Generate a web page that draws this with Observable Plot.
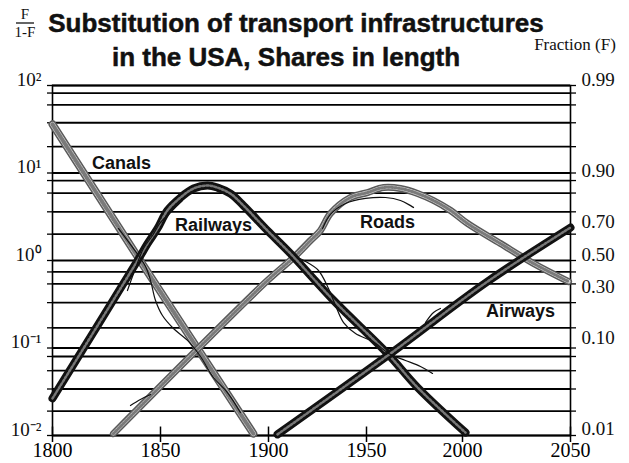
<!DOCTYPE html>
<html><head><meta charset="utf-8">
<script src="https://cdn.jsdelivr.net/npm/d3@7"></script>
<script src="https://cdn.jsdelivr.net/npm/@observablehq/plot@0.6"></script>
<style>body{margin:0;background:#fff} svg{display:block}</style>
</head><body><div id="chart"></div>
<script>
// ---- data ----
const xTicks = [1800, 1850, 1900, 1950, 2000, 2050];
const decadeTicks = [0.01, 0.1, 1, 10, 100];
const fractionTicks = [0.99, 0.90, 0.70, 0.50, 0.30, 0.10, 0.01];
const fractionLabels = ["0.99", "0.90", "0.70", "0.50", "0.30", "0.10", "0.01"];
const gridRatios = [100, 82, 60, 37.5, 20, 10, 8.2, 5.9, 3.6, 2, 1, 0.74, 0.54, 0.33, 0.17, 0.1, 0.08, 0.055, 0.034, 0.019, 0.01];

// fitted (thick) curves: F/(1-F)
const canalYears = [1800, 1840, 1893];
const canalRatio = [36, 1.05, 0.0105];
const railYears = [1800, 1839.4, 1844, 1848.6, 1853.2, 1859.3, 1865.3, 1871.8, 1876.4, 1882.4, 1888.4, 1899.5, 1911.2, 1933.2, 1960.9, 1976.6, 2001.4];
const railRatio = [0.0265, 1.0, 1.56, 2.32, 3.73, 5.25, 6.65, 7.2, 6.8, 5.8, 4.25, 2.2, 1.2, 0.35, 0.0865, 0.0354, 0.0108];
const roadYears = [1828.2, 1899.5, 1912.8, 1921.4, 1926.5, 1931.6, 1941.8, 1950.5, 1958.9, 1967.7, 1976.6, 1984.9, 1993.8, 2002.3, 2017.6, 2032.9, 2049.1];
const roadRatio = [0.0105, 0.59, 1.08, 1.69, 2.2, 3.44, 5.25, 5.98, 6.82, 6.65, 5.83, 4.85, 3.73, 2.65, 1.56, 0.925, 0.575];
const airYears = [1904.6, 1962.5, 2011.6, 2050];
const airRatio = [0.0103, 0.0865, 0.575, 2.38];

// observed (thin) data lines
const canalDataYears = [1830.6, 1837.5, 1843.1, 1845.4, 1847.7, 1850.9, 1856.0, 1862.5, 1868.5, 1874.5, 1881.0, 1887.0];
const canalDataRatio = [2.32, 1.37, 0.853, 0.59, 0.349, 0.235, 0.167, 0.122, 0.080, 0.046, 0.031, 0.0183];
const railDataYears1 = [1834.7, 1838.4, 1842.1, 1846.3, 1850, 1854.6, 1860.2];
const railDataRatio1 = [0.454, 0.81, 1.37, 1.93, 2.72, 3.54, 4.85];
const railDataYears2 = [1913.8, 1918.9, 1925.5, 1930.6, 1934.2, 1938.3, 1944.4, 1953.1, 1962.5, 1970.3, 1978.1, 1984.4];
const railDataRatio2 = [1.11, 0.974, 0.769, 0.478, 0.306, 0.195, 0.146, 0.119, 0.0843, 0.072, 0.0615, 0.0512];
const roadDataYears1 = [1836.1, 1840.7, 1845.4];
const roadDataRatio1 = [0.022, 0.0258, 0.0294];
const roadDataYears2 = [1927.6, 1931.6, 1939.3, 1949.5, 1959.9, 1967.7, 1974.5];
const roadDataRatio2 = [2.32, 3.36, 4.48, 5.12, 5.25, 4.85, 4.03];
const airDataYears = [1980.7, 1984.9, 1988.5];
const airDataRatio = [0.195, 0.255, 0.283];

const labelNames = ["Canals", "Railways", "Roads", "Airways"];
const labelYears = [1832, 1874.5, 1960.9, 2026.9];
const labelRatio = [12.9, 2.51, 2.72, 0.261];

// ---- build tables ----
const rows = (yrs, vals) => yrs.map((t, i) => ({year: t, ratio: vals[i]}));
const canal = rows(canalYears, canalRatio);
const rail = rows(railYears, railRatio);
const road = rows(roadYears, roadRatio);
const air = rows(airYears, airRatio);
const thin = [
  rows(canalDataYears, canalDataRatio),
  rows(railDataYears1, railDataRatio1),
  rows(railDataYears2, railDataRatio2),
  rows(roadDataYears1, roadDataRatio1),
  rows(roadDataYears2, roadDataRatio2),
  rows(airDataYears, airDataRatio)
];
const labels = labelNames.map((n, i) => ({name: n, year: labelYears[i], ratio: labelRatio[i]}));
const fracRows = fractionTicks.map((f, i) => ({ratio: f / (1 - f), text: fractionLabels[i]}));

const sup = {"-2": "10⁻²", "-1": "10⁻¹", "0": "10⁰", "1": "10¹", "2": "10²"};
const serif = "Liberation Serif, Times New Roman, serif";
const sans = "Liberation Sans, Arial, sans-serif";

const grayBand = (data, w) => [
  Plot.line(data, {x: "year", y: "ratio", stroke: "#5a5a5a", strokeWidth: w, curve: "catmull-rom"}),
  Plot.line(data, {x: "year", y: "ratio", stroke: "#cfcfcf", strokeWidth: w - 3, curve: "catmull-rom"}),
  Plot.line(data, {x: "year", y: "ratio", stroke: "#7a7a7a", strokeWidth: w - 4, strokeDasharray: "1.5,2", curve: "catmull-rom"})
];
const blackBand = (data) => [
  Plot.line(data, {x: "year", y: "ratio", stroke: "#111", strokeWidth: 8, curve: "catmull-rom"}),
  Plot.line(data, {x: "year", y: "ratio", stroke: "#777", strokeWidth: 2.5, strokeDasharray: "2,2", curve: "catmull-rom"})
];

const chart = Plot.plot({
  width: 629, height: 463,
  marginLeft: 52, marginRight: 59, marginTop: 85, marginBottom: 28,
  x: {type: "linear", domain: xTicks, range: [52, 160, 268, 366, 462, 570], label: null},
  y: {type: "log", domain: [0.01, 100], range: [435, 85], label: null},
  style: {background: "white", fontFamily: serif, color: "#000"},
  marks: [
    Plot.ruleY(gridRatios, {stroke: "#000", strokeWidth: 1.8}),
    Plot.frame({stroke: "#000", strokeWidth: 1.6}),
    Plot.axisY(gridRatios, {anchor: "left", tickSize: 5, tickFormat: () => "", strokeWidth: 1.3, label: null}),
    Plot.text(decadeTicks, {y: d => d, text: d => sup[String(Math.round(Math.log10(d)))], frameAnchor: "left",
      dx: -11, dy: -6, textAnchor: "end", fontSize: 19, fontFamily: serif, fill: "#111"}),
    Plot.axisY(gridRatios, {anchor: "right", tickSize: 5, tickFormat: () => "", strokeWidth: 1.3, label: null}),
    Plot.text(fracRows, {y: "ratio", text: "text", frameAnchor: "right", dx: 11, dy: -6, textAnchor: "start",
      fontSize: 19, fontFamily: serif, fill: "#111"}),
    Plot.axisX(xTicks, {anchor: "bottom", tickSize: 7, tickPadding: 0, fontSize: 20, tickFormat: d => String(d), strokeWidth: 1.5, label: null}),
    Plot.ruleX(xTicks, {y1: 0.01, y2: 0.0125, stroke: "#000", strokeWidth: 1.5}),
    ...grayBand(canal, 8),
    ...grayBand(road, 7),
    ...blackBand(rail),
    ...blackBand(air),
    ...thin.map(d => Plot.line(d, {x: "year", y: "ratio", stroke: "#111", strokeWidth: 1.2, curve: "catmull-rom"})),
    Plot.text(labels, {x: "year", y: "ratio", text: "name", fontFamily: sans, fontWeight: "bold", fontSize: 18, fill: "#111"})
  ]
});

const svg = d3.select(chart);
const title = (txt, x, y) => svg.append("text").attr("x", x).attr("y", y).attr("text-anchor", "middle")
  .attr("font-family", sans).attr("font-weight", "bold").attr("font-size", 26).attr("fill", "#111")
  .attr("stroke", "#111").attr("stroke-width", 0.5).text(txt);
title("Substitution of transport infrastructures", 296, 32);
title("in the USA, Shares in length", 286, 66);
svg.append("text").attr("x", 25).attr("y", 19).attr("text-anchor", "middle")
  .attr("font-family", serif).attr("font-size", 15).attr("fill", "#111").text("F");
svg.append("line").attr("x1", 16).attr("x2", 34).attr("y1", 23).attr("y2", 23).attr("stroke", "#111").attr("stroke-width", 1.3);
svg.append("text").attr("x", 25).attr("y", 37).attr("text-anchor", "middle")
  .attr("font-family", serif).attr("font-size", 15).attr("fill", "#111").text("1-F");
svg.append("text").attr("x", 575).attr("y", 50).attr("text-anchor", "middle")
  .attr("font-family", serif).attr("font-size", 17).attr("fill", "#111").text("Fraction (F)");

document.getElementById("chart").append(chart);
</script>
</body></html>
